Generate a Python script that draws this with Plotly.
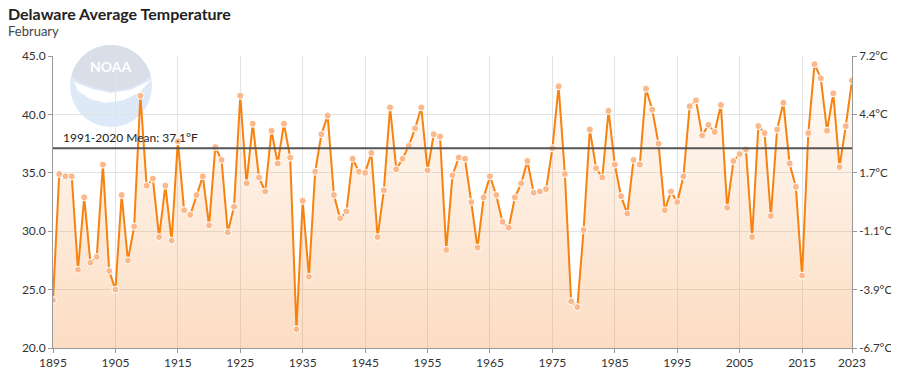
import math
import plotly.graph_objects as go

years = list(range(1895, 2024))
temps_f = [
    24.1, 34.9, 34.7, 34.7, 26.7, 32.9, 27.3, 27.8, 35.7, 26.6,  # 1895-1904
    25.0, 33.1, 27.5, 30.4, 41.6, 33.9, 34.5, 29.5, 33.9, 29.2,  # 1905-1914
    37.7, 31.8, 31.4, 33.1, 34.7, 30.5, 37.2, 36.1, 29.9, 32.1,  # 1915-1924
    41.6, 34.1, 39.2, 34.6, 33.4, 38.6, 35.8, 39.2, 36.3, 21.6,  # 1925-1934
    32.6, 26.1, 35.1, 38.3, 39.9, 33.1, 31.1, 31.7, 36.2, 35.1,  # 1935-1944
    35.0, 36.7, 29.5, 33.5, 40.6, 35.3, 36.2, 37.3, 38.8, 40.6,  # 1945-1954
    35.2, 38.3, 38.1, 28.4, 34.8, 36.3, 36.2, 32.5, 28.6, 32.9,  # 1955-1964
    34.7, 33.1, 30.8, 30.3, 32.9, 34.1, 36.0, 33.3, 33.4, 33.6,  # 1965-1974
    37.1, 42.4, 34.9, 24.0, 23.5, 30.1, 38.7, 35.4, 34.6, 40.3,  # 1975-1984
    35.7, 33.0, 31.5, 36.1, 35.7, 42.2, 40.4, 37.5, 31.8, 33.4,  # 1985-1994
    32.5, 34.7, 40.7, 41.2, 38.2, 39.1, 38.5, 40.8, 32.0, 36.0,  # 1995-2004
    36.6, 37.0, 29.5, 39.0, 38.4, 31.3, 38.7, 41.0, 35.8, 33.8,  # 2005-2014
    26.2, 38.4, 44.3, 43.1, 38.6, 41.8, 35.5, 39.0, 42.9,        # 2015-2023
]
mean_value = 37.1
mean_label = "1991-2020 Mean: 37.1°F"
f_ticks = [20, 25, 30, 35, 40, 45]
c_ticks = ["%.1f°C" % ((f - 32) * 5 / 9) for f in f_ticks]
x_ticks = [1895, 1905, 1915, 1925, 1935, 1945, 1955, 1965, 1975, 1985, 1995, 2005, 2015, 2023]

FONT = "Lato"
OFF = 8  # page body margin
W, H = 899 - 2 * OFF, 377 - 2 * OFF
# plot area in screen pixels: x 53..852, y 56..348
ML, MT = 53 - OFF, 56 - OFF
MR = W - (852 - OFF)
MB = H - (348 - OFF)


def px_to_paper(sx, sy):
    fx, fy = sx - OFF, sy - OFF
    return (fx - ML) / (W - ML - MR), 1 - (fy - MT) / (H - MT - MB)


def poly_path(points):
    pts = [px_to_paper(x, y) for x, y in points]
    return "M " + " L ".join("%.5f,%.5f" % p for p in pts) + " Z"


fig = go.Figure()

fig.add_trace(go.Scatter(
    x=years, y=temps_f, mode="lines+markers",
    line=dict(color="#f7820f", width=2),
    marker=dict(size=7, color="#fbb88a", line=dict(color="white", width=1)),
    fill="tozeroy",
    fillgradient=dict(type="vertical",
                      colorscale=[[0, "rgba(245,140,50,0.30)"], [1, "rgba(245,140,50,0.02)"]],
                      start=20, stop=45),
    hoverinfo="x+y", showlegend=False,
))
fig.add_trace(go.Scatter(x=[years[0]], y=[temps_f[0]], yaxis="y2", mode="markers",
                         marker=dict(opacity=0), showlegend=False, hoverinfo="skip"))

# NOAA logo approximation (faint watermark)
CX, CY, R = 111, 86, 41
x0, y0 = px_to_paper(CX - R, CY - R)
x1, y1 = px_to_paper(CX + R, CY + R)
fig.add_shape(type="circle", xref="paper", yref="paper", x0=x0, y0=y1, x1=x1, y1=y0,
              fillcolor="#dde9f6", line=dict(width=0), layer="below")
arc = [(CX + R * math.cos(math.radians(a)), CY - R * math.sin(math.radians(a)))
       for a in range(165, 14, -5)]
upper = arc + [(146, 80), (130, 88), (111, 91), (92, 87), (76, 80)]
fig.add_shape(type="path", xref="paper", yref="paper", path=poly_path(upper),
              fillcolor="#d9dee8", line=dict(width=0), layer="below")
swoosh = [(74, 82), (92, 89), (111, 93), (130, 90), (147, 82), (151, 80),
          (140, 92), (124, 100), (106, 103), (90, 99), (78, 91)]
fig.add_shape(type="path", xref="paper", yref="paper", path=poly_path(swoosh),
              fillcolor="white", line=dict(width=0), layer="below")
tx, ty = px_to_paper(111, 66)
fig.add_annotation(xref="paper", yref="paper", x=tx, y=ty, xanchor="center", yanchor="middle",
                   text="<b>NOAA</b>", showarrow=False,
                   font=dict(family=FONT, size=14, color="white"))

# Title and subtitle
tx, ty = px_to_paper(6, 2)
fig.add_annotation(xref="paper", yref="paper", x=tx, y=ty, xanchor="left", yanchor="top",
                   text="<b>Delaware Average Temperature</b>", showarrow=False,
                   font=dict(family=FONT, size=16, color="#222"))
tx, ty = px_to_paper(6, 21)
fig.add_annotation(xref="paper", yref="paper", x=tx, y=ty, xanchor="left", yanchor="top",
                   text="February", showarrow=False,
                   font=dict(family=FONT, size=13, color="#444"))

fig.add_shape(type="line", xref="x", yref="y", x0=years[0], x1=years[-1], y0=mean_value, y1=mean_value,
              line=dict(color="#555555", width=2))
fig.add_annotation(xref="x", yref="y", x=years[0] + 1.3, y=mean_value, text=mean_label,
                   showarrow=False, xanchor="left", yanchor="bottom", yshift=1,
                   font=dict(family=FONT, size=12, color="#222"))

axis_common = dict(showline=True, linecolor="#999", linewidth=1, ticks="outside", ticklen=4,
                   tickcolor="#999", zeroline=False, automargin=False)

fig.update_layout(
    width=W, height=H,
    margin=dict(l=ML, r=MR, t=MT, b=MB, autoexpand=False),
    paper_bgcolor="white", plot_bgcolor="white",
    font=dict(family=FONT),
    xaxis=dict(range=[1895, 2023], tickvals=x_ticks, showgrid=True, gridcolor="#e3e3e3",
               tickfont=dict(family=FONT, size=12, color="#333"), **axis_common),
    yaxis=dict(range=[20, 45], tickvals=f_ticks, tickformat=".1f", ticksuffix="°F",
               showgrid=True, gridcolor="#e3e3e3",
               tickfont=dict(family=FONT, size=12, color="#333"), **axis_common),
    yaxis2=dict(range=[20, 45], tickvals=f_ticks, ticktext=c_ticks, overlaying="y", side="right",
                showgrid=False, tickfont=dict(family=FONT, size=11.5, color="#333"), **axis_common),
)

fig.write_html("out.html")
